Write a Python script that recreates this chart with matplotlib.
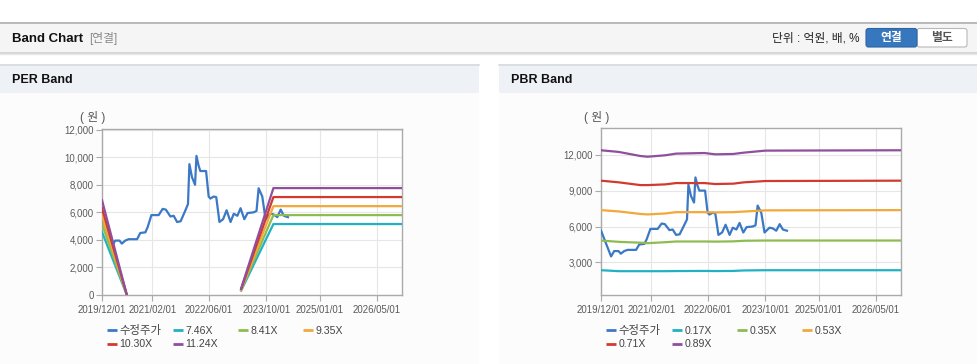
import numpy as np
import pandas as pd
import matplotlib
matplotlib.use("Agg")
import matplotlib.pyplot as plt
from matplotlib.patches import Rectangle, FancyBboxPatch

plt.rcParams['font.family'] = ['Liberation Sans', 'Noto Sans CJK KR', 'DejaVu Sans']

# ---------------- data ----------------
price_dates = ['2019-12-01','2020-02-25','2020-03-22','2020-04-28','2020-05-18','2020-06-16','2020-07-15',
               '2020-09-25','2020-10-22','2020-12-05','2020-12-25','2021-01-25','2021-03-01','2021-03-28',
               '2021-05-01','2021-05-28','2021-07-06','2021-08-03','2021-09-01','2021-10-01','2021-11-06',
               '2021-12-03','2021-12-15','2022-01-06','2022-02-01','2022-02-13','2022-03-03','2022-03-18',
               '2022-05-06','2022-05-28','2022-06-12','2022-07-10','2022-08-01','2022-08-28','2022-09-28',
               '2022-10-28','2022-12-01','2022-12-28','2023-01-28','2023-02-24','2023-03-28','2023-04-25',
               '2023-06-15','2023-07-10','2023-07-28','2023-08-28','2023-09-25','2023-11-06','2023-12-03',
               '2024-01-03','2024-02-01','2024-02-28','2024-04-03']
price_values = [5660, 3500, 3950, 3950, 3730, 3950, 4050,
                4050, 4500, 4550, 4950, 5800, 5800, 5800,
                6250, 6200, 5700, 5750, 5300, 5350, 6050,
                6600, 9500, 8550, 8000, 10100, 9400, 9000,
                9000, 7150, 7000, 7150, 7100, 5300, 5500,
                6150, 5300, 5900, 5750, 6300, 5500, 5950,
                6000, 6100, 7750, 7150, 5500, 5900, 5850,
                5650, 6200, 5750, 5650]

per_band_dates = ['2019-12-01', '2020-12-01', '2021-06-01', '2023-03-01', '2023-12-01', '2026-12-01']
per_labels = ['7.46X', '8.41X', '9.35X', '10.30X', '11.24X']
per_746 = [4570, -3320, np.nan, 320, 5150, 5150]
per_841 = [5150, -3740, np.nan, 360, 5800, 5800]
per_935 = [5720, -4160, np.nan, 400, 6450, 6450]
per_1030 = [6300, -4580, np.nan, 440, 7110, 7110]
per_1124 = [6880, -5000, np.nan, 480, 7760, 7760]

pbr_band_dates = ['2019-12-01', '2020-05-01', '2020-11-01', '2021-01-01', '2021-06-01', '2021-09-01',
                  '2022-05-01', '2022-08-01', '2023-01-01', '2023-04-01', '2023-10-01', '2026-12-01']
pbr_labels = ['0.17X', '0.35X', '0.53X', '0.71X', '0.89X']
pbr_017 = [2350, 2270, 2270, 2270, 2270, 2280, 2290, 2280, 2290, 2330, 2350, 2350]
pbr_035 = [4830, 4720, 4650, 4610, 4690, 4750, 4750, 4740, 4760, 4810, 4830, 4830]
pbr_053 = [7370, 7260, 7050, 7010, 7090, 7200, 7200, 7180, 7200, 7250, 7350, 7370]
pbr_071 = [9830, 9690, 9460, 9460, 9520, 9630, 9630, 9550, 9580, 9690, 9800, 9830]
pbr_089 = [12370, 12230, 11890, 11830, 11950, 12090, 12140, 12030, 12060, 12170, 12340, 12370]

x_tick_dates = ['2019/12/01', '2021/02/01', '2022/06/01', '2023/10/01', '2025/01/01', '2026/05/01']
x_range = ['2019-12-01', '2026-12-01']
per_yticks = [0, 2000, 4000, 6000, 8000, 10000, 12000]
pbr_yticks = [3000, 6000, 9000, 12000]

price_label = '수정주가'
colors = ['#3b78c6', '#22b1c2', '#8ebc50', '#f2a83a', '#d13a2e', '#8f4f9e']

# ---------------- figure ----------------
W, H = 978, 364
fig = plt.figure(figsize=(W / 100, H / 100), dpi=100)
fig.patch.set_facecolor('white')

bg = fig.add_axes([0, 0, 1, 1], zorder=0)
bg.set_xlim(0, W)
bg.set_ylim(H, 0)
bg.axis('off')

# top header
bg.add_patch(Rectangle((0, 22), W, 31, facecolor='#f5f5f5', edgecolor='none'))
bg.plot([0, W], [22.5, 22.5], color='#b4b4b4', lw=1.3)
bg.plot([0, W], [53, 53], color='#cfcfcf', lw=1.2)
bg.plot([0, W], [54.2, 54.2], color='#e8e8e8', lw=1.0)
bg.text(12, 38.5, 'Band Chart', fontsize=9.5, fontweight='bold', color='#111', va='center', ha='left')
bg.text(89, 38.5, '[연결]', fontsize=8.5, color='#888', va='center', ha='left')
bg.text(860, 38.5, '단위 : 억원, 배, %', fontsize=8.5, color='#222', va='center', ha='right')
bg.add_patch(FancyBboxPatch((917, 28.5), 50, 18.5, boxstyle='round,pad=0,rounding_size=2.5',
                            facecolor='white', edgecolor='#b8b8b8', lw=0.8))
bg.add_patch(FancyBboxPatch((866, 28.5), 51, 18.5, boxstyle='round,pad=0,rounding_size=2.5',
                            facecolor='#3777bd', edgecolor='#2d65a6', lw=0.8))
bg.text(891.5, 38, '연결', fontsize=8.5, fontweight='bold', color='white', va='center', ha='center')
bg.text(942, 38, '별도', fontsize=8.5, fontweight='bold', color='#555', va='center', ha='center')

# panels
for x0, title in [(0, 'PER Band'), (499, 'PBR Band')]:
    bg.add_patch(Rectangle((x0, 93), 479, H - 93, facecolor='#fcfcfd', edgecolor='none'))
    bg.add_patch(Rectangle((x0, 64), 479, 29, facecolor='#eef2f7', edgecolor='none'))
    bg.plot([x0, x0 + 479], [64.5, 64.5], color='#d6d9dd', lw=1.2)
    bg.text(x0 + 12, 80, title, fontsize=9, fontweight='bold', color='#111', va='center', ha='left')


def make_axes(left, top, right, bottom):
    return fig.add_axes([left / W, 1 - bottom / H, (right - left) / W, (bottom - top) / H], zorder=2)


def style_axes(ax, yticks, ylim):
    ax.set_facecolor('white')
    ax.set_xlim(pd.to_datetime(x_range[0]), pd.to_datetime(x_range[1]))
    ax.set_ylim(*ylim)
    ax.set_xticks(pd.to_datetime(x_tick_dates, format='%Y/%m/%d'))
    ax.set_xticklabels(x_tick_dates)
    ax.set_yticks(yticks)
    ax.set_yticklabels([f'{v:,}' for v in yticks])
    ax.grid(True, color='#e6e6e6', lw=0.8, zorder=0)
    ax.set_axisbelow(True)
    for s in ax.spines.values():
        s.set_color('#aaaaaa')
        s.set_linewidth(1.0)
    ax.tick_params(axis='both', colors='#aaaaaa', labelcolor='#5a5a5a', labelsize=6.9,
                   length=4, width=0.8, pad=2)
    ax.tick_params(axis='x', pad=3)


def legend(x0, labels):
    entries = [price_label] + labels
    xs = [107, 173, 238, 303]
    for i, lab in enumerate(entries):
        row, col = divmod(i, 4)
        y = 330 + row * 13.5
        hx = x0 + xs[col]
        bg.plot([hx, hx + 10], [y, y], color=colors[i], lw=2.0, solid_capstyle='butt')
        fs = 8.2 if i == 0 else 7.6
        bg.text(hx + 12.5, y + 0.5, lab, fontsize=fs, color='#444', va='center', ha='left')


pdates = pd.to_datetime(price_dates)

# PER
ax1 = make_axes(102, 129, 402, 295)
style_axes(ax1, per_yticks, (0, 12050))
ax1.plot(pdates, price_values, color=colors[0], lw=1.6, zorder=3)
for i, vals in enumerate([per_746, per_841, per_935, per_1030, per_1124]):
    ax1.plot(pd.to_datetime(per_band_dates), vals, color=colors[i + 1], lw=1.6, zorder=3)
bg.text(93, 117.5, '( 원 )', fontsize=8.5, color='#555', ha='center', va='center')
legend(0, per_labels)

# PBR
ax2 = make_axes(601, 128, 901, 295)
style_axes(ax2, pbr_yticks, (280, 14230))
ax2.plot(pdates, price_values, color=colors[0], lw=1.6, zorder=3)
for i, vals in enumerate([pbr_017, pbr_035, pbr_053, pbr_071, pbr_089]):
    ax2.plot(pd.to_datetime(pbr_band_dates), vals, color=colors[i + 1], lw=1.6, zorder=3)
bg.text(597, 117.5, '( 원 )', fontsize=8.5, color='#555', ha='center', va='center')
legend(499, pbr_labels)

fig.savefig('out.png', dpi=100, facecolor='white')
